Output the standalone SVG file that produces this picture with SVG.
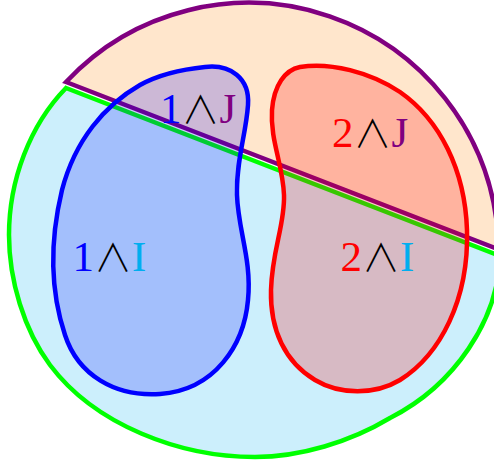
<svg xmlns="http://www.w3.org/2000/svg" width="494" height="467" viewBox="0 0 494 467">
<style>
.region{stroke-width:4.5;stroke-linejoin:miter}
.blob{stroke-width:4.5;stroke-linejoin:round}
.lbl{font-family:"Liberation Serif","DejaVu Serif",serif;font-size:43px}
.op{font-family:"Noto Sans CJK JP","DejaVu Sans",sans-serif;font-weight:300;font-size:38px;fill:#000}
.c1{fill:#0000FF}.c2{fill:#FF0000}.cJ{fill:#800080}.cI{fill:#00AEEF}
</style>
<g id="region-I">
<path class="region" fill="#CCEFFC" stroke="#00FF00" d="M66,88 L500,256 C498,320 455,385 390,418 C350,442 300,457 255,457 C180,457 95,425 50,365 C24,330 9,280 9,235 C9,180 30,125 66,88 Z"/>
</g>
<g id="region-J">
<path class="region" fill="#FFE6CC" stroke="#800080" d="M66,82 L500,250 L497.5,230 A250,250 0 0 0 66,82 Z"/>
</g>
<g id="blob-1">
<path class="blob" fill="#0000FF" fill-opacity="0.2" stroke="#0000FF" d="M205,67 C230,64 250,78 248,105 C246,135 236,160 237,195 C238,230 252,260 248,300 C244,345 215,390 160,394 C115,397 78,375 65,335 C50,290 50,240 62,190 C75,140 105,105 140,85 C160,74 185,69 205,67 Z"/>
</g>
<g id="blob-2">
<path class="blob" fill="#FF0000" fill-opacity="0.22" stroke="#FF0000" d="M300,67 C330,62 370,72 400,92 C440,120 465,170 467,230 C469,300 440,355 400,380 C375,395 340,395 315,380 C285,362 270,330 271,290 C272,250 285,225 284,195 C283,165 270,140 272,110 C274,85 285,70 300,67 Z"/>
</g>
<g id="label-1J">
<text class="lbl" x="160" y="123"><tspan class="c1">1</tspan><tspan class="op">∧</tspan><tspan class="cJ">J</tspan></text>
</g>
<g id="label-2J">
<text class="lbl" x="332" y="147"><tspan class="c2">2</tspan><tspan class="op">∧</tspan><tspan class="cJ">J</tspan></text>
</g>
<g id="label-1I">
<text class="lbl" x="72.5" y="271"><tspan class="c1">1</tspan><tspan class="op">∧</tspan><tspan class="cI">I</tspan></text>
</g>
<g id="label-2I">
<text class="lbl" x="340.5" y="271"><tspan class="c2">2</tspan><tspan class="op">∧</tspan><tspan class="cI">I</tspan></text>
</g>
</svg>
